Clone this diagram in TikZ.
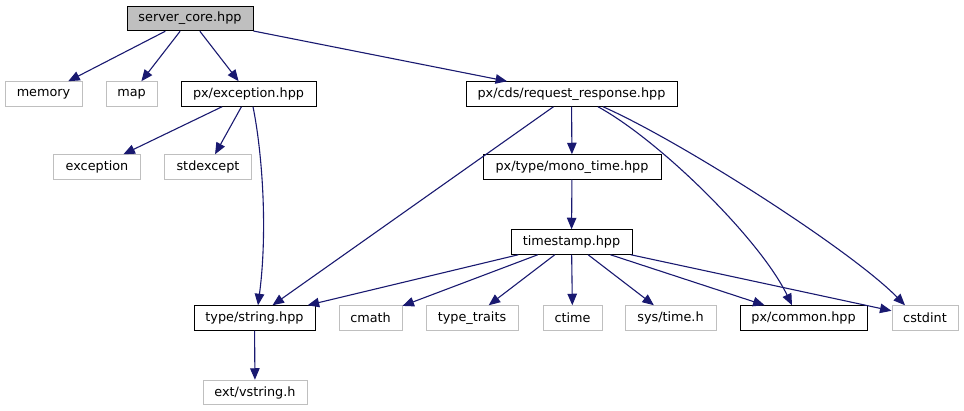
\documentclass[tikz,border=0pt]{standalone}
\usepackage{fontspec}
\setmainfont{DejaVu Sans}
\usetikzlibrary{arrows.meta}
\definecolor{midnight}{HTML}{191970}
\definecolor{lightgray}{HTML}{BFBFBF}
\begin{document}
\begin{tikzpicture}[x=1pt,y=-1pt,line width=1pt,
  font=\fontsize{12.8}{14}\selectfont,
  hdr/.style={draw=black, fill=white, rectangle, inner sep=0pt, minimum height=24.5pt},
  ext/.style={draw=lightgray, fill=white, rectangle, inner sep=0pt, minimum height=24.5pt},
  cur/.style={hdr, fill=lightgray},
  dep/.style={draw=midnight, line width=1.1pt, -{Triangle[length=11.5pt,width=9.5pt,fill=midnight]}}]
\useasboundingbox (0,0) rectangle (964,411);

\node[cur, minimum width=126pt] (core) at (190,18.5) {server\_core.hpp};

\node[ext, minimum width=77pt] (memory) at (43.5,94) {memory};
\node[ext, minimum width=51pt] (map) at (131.5,94) {map};
\node[hdr, minimum width=135pt] (exc) at (248.5,94) {px/exception.hpp};
\node[hdr, minimum width=211pt] (reqresp) at (571.5,94) {px/cds/request\_response.hpp};

\node[ext, minimum width=87pt] (exception) at (97,167) {exception};
\node[ext, minimum width=87pt] (stdexcept) at (208,167) {stdexcept};
\node[hdr, minimum width=178pt] (monotime) at (572,167) {px/type/mono\_time.hpp};

\node[hdr, minimum width=121pt] (timestamp) at (571.5,242) {timestamp.hpp};

\node[hdr, minimum width=121pt] (str) at (254.5,318) {type/string.hpp};
\node[ext, minimum width=63pt] (cmath) at (370.5,318) {cmath};
\node[ext, minimum width=92pt] (traits) at (472,318) {type\_traits};
\node[ext, minimum width=59pt] (ctime) at (572.5,318) {ctime};
\node[ext, minimum width=91pt] (systime) at (670.5,318) {sys/time.h};
\node[hdr, minimum width=127pt] (common) at (803.5,318) {px/common.hpp};
\node[ext, minimum width=66pt] (cstdint) at (925,318) {cstdint};

\node[ext, minimum width=104pt] (vstring) at (255,392.5) {ext/vstring.h};

\draw[dep] (core) -- (memory);
\draw[dep] (core) -- (map);
\draw[dep] (core) -- (exc);
\draw[dep] (core) -- (reqresp);

\draw[dep] (exc) -- (exception);
\draw[dep] (exc) -- (stdexcept);
\draw[dep] ([xshift=4.5pt]exc.south) .. controls +(9,44) and +(10,-76) .. ([xshift=3.5pt]str.north);

\draw[dep] (reqresp) -- (str);
\draw[dep] (reqresp) -- (monotime);
\draw[dep] ([xshift=26.5pt]reqresp.south) .. controls +(62,34) and +(-32,-66) .. ([xshift=-11.5pt]common.north);
\draw[dep] ([xshift=31.5pt]reqresp.south) .. controls +(77,34) and +(-55,-56) .. ([xshift=-20pt]cstdint.north);

\draw[dep] (monotime) -- (timestamp);

\draw[dep] (timestamp) -- (str);
\draw[dep] (timestamp) -- (cmath);
\draw[dep] (timestamp) -- (traits);
\draw[dep] (timestamp) -- (ctime);
\draw[dep] (timestamp) -- (systime);
\draw[dep] (timestamp) -- (common);
\draw[dep] (timestamp) -- (cstdint);

\draw[dep] (str) -- (vstring);
\end{tikzpicture}
\end{document}
